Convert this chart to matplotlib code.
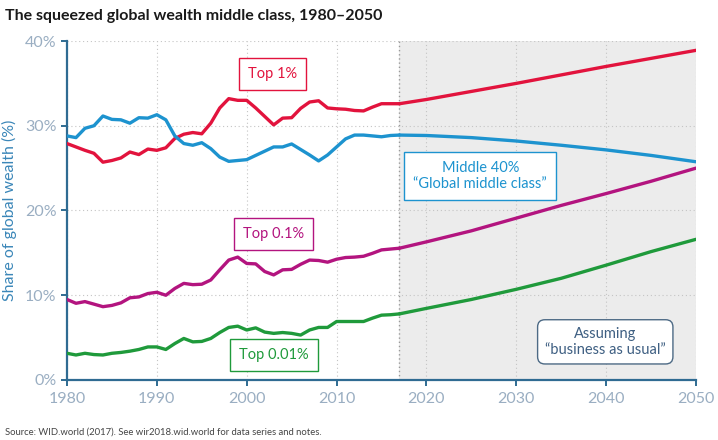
import matplotlib
matplotlib.use("Agg")
import matplotlib.pyplot as plt

plt.rcParams['font.family'] = ['Lato', 'DejaVu Sans']

hist_years = list(range(1980, 2018))
top1_hist = [27.9, 27.5, 27.1, 26.75, 25.7, 25.9, 26.2, 26.9, 26.6, 27.25,
             27.1, 27.4, 28.5, 29.0, 29.2, 29.05, 30.3, 32.1, 33.2, 33.0,
             33.0, 32.1, 31.1, 30.1, 30.9, 30.95, 32.05, 32.8, 32.95, 32.1,
             32.0, 31.95, 31.8, 31.75, 32.2, 32.6, 32.6, 32.6]
mid40_hist = [28.8, 28.6, 29.7, 30.0, 31.15, 30.75, 30.7, 30.3, 30.95, 30.9,
              31.3, 30.7, 28.8, 27.9, 27.7, 28.0, 27.3, 26.3, 25.8, 25.9,
              26.0, 26.5, 27.0, 27.5, 27.5, 27.85, 27.2, 26.55, 25.85, 26.55,
              27.5, 28.45, 28.9, 28.9, 28.8, 28.7, 28.85, 28.9]
top01_hist = [9.5, 9.05, 9.25, 8.95, 8.65, 8.8, 9.1, 9.7, 9.8, 10.2,
              10.35, 10.0, 10.8, 11.4, 11.25, 11.3, 11.8, 13.0, 14.15, 14.5,
              13.75, 13.7, 12.8, 12.4, 13.0, 13.05, 13.65, 14.15, 14.1, 13.9,
              14.25, 14.45, 14.5, 14.6, 14.95, 15.35, 15.45, 15.55]
top001_hist = [3.15, 2.95, 3.15, 3.0, 2.95, 3.15, 3.25, 3.4, 3.6, 3.9,
               3.9, 3.6, 4.3, 4.9, 4.5, 4.55, 4.9, 5.6, 6.2, 6.35,
               5.9, 6.15, 5.65, 5.5, 5.6, 5.5, 5.3, 5.9, 6.2, 6.2,
               6.9, 6.9, 6.9, 6.9, 7.3, 7.65, 7.7, 7.8]

proj_years = [2017, 2020, 2025, 2030, 2035, 2040, 2045, 2050]
top1_proj = [32.6, 33.1, 34.05, 35.0, 36.0, 37.0, 37.95, 38.9]
mid40_proj = [28.9, 28.85, 28.6, 28.2, 27.7, 27.15, 26.5, 25.75]
top01_proj = [15.55, 16.3, 17.6, 19.1, 20.6, 22.0, 23.45, 25.0]
top001_proj = [7.8, 8.45, 9.5, 10.7, 12.0, 13.55, 15.15, 16.6]

x_ticks = [1980, 1990, 2000, 2010, 2020, 2030, 2040, 2050]
y_ticks = [0, 10, 20, 30, 40]
y_tick_labels = ['0%', '10%', '20%', '30%', '40%']

c_red = '#e2133d'
c_blue = '#1d93cf'
c_mag = '#b3147f'
c_green = '#1f9a3b'
c_tick = '#9aaec2'
c_spine = '#2f6b92'

fig = plt.figure(figsize=(7.18, 4.40), dpi=100)
ax = fig.add_axes([0.0933, 0.1364, 0.8761, 0.7704])

ax.axvspan(2017, 2050, color='#ececec', zorder=0, lw=0)
ax.axvline(2017, color='#9a9a9a', lw=1.0, ls=(0, (1, 2)), zorder=1)

lw = 2.4
for yrs, vals, c in [(hist_years, top1_hist, c_red), (proj_years, top1_proj, c_red),
                     (hist_years, mid40_hist, c_blue), (proj_years, mid40_proj, c_blue),
                     (hist_years, top01_hist, c_mag), (proj_years, top01_proj, c_mag),
                     (hist_years, top001_hist, c_green), (proj_years, top001_proj, c_green)]:
    ax.plot(yrs, vals, color=c, lw=lw, solid_capstyle='round', solid_joinstyle='round', zorder=3)

ax.set_xlim(1980, 2050)
ax.set_ylim(0, 40)
ax.set_xticks(x_ticks)
ax.set_yticks(y_ticks)
ax.set_yticklabels(y_tick_labels)
ax.grid(True, color='#c4c4c4', lw=0.8, ls=(0, (1, 2.5)), zorder=1)
ax.set_axisbelow(True)
for s in ['top', 'right']:
    ax.spines[s].set_visible(False)
for s in ['left', 'bottom']:
    ax.spines[s].set_color(c_spine)
    ax.spines[s].set_linewidth(1.6)
ax.tick_params(axis='both', colors=c_spine, labelcolor=c_tick, labelsize=11.5, length=4, width=1.4)
ax.tick_params(axis='x', pad=5)
ax.set_ylabel('Share of global wealth (%)', color='#3a86b8', fontsize=11.5, labelpad=6)

def label_box(x, y, text, col, fs=10.5, rounded=False, ec=None, tc=None):
    style = 'round,pad=0.5,rounding_size=0.5' if rounded else 'square,pad=0.62'
    ax.text(x, y, text, color=tc or col, fontsize=fs, ha='center', va='center',
            linespacing=1.15, zorder=5,
            bbox=dict(boxstyle=style, fc='white', ec=ec or col, lw=1.0))

label_box(2002.9, 36.1, 'Top 1%', c_red)
label_box(2003.0, 17.2, 'Top 0.1%', c_mag)
label_box(2003.0, 2.95, 'Top 0.01%', c_green)
label_box(2026.0, 24.1, 'Middle 40%\n\u201cGlobal middle class\u201d', c_blue)
label_box(2039.9, 4.5, 'Assuming\n\u201cbusiness as usual\u201d', '#4d6a85', rounded=True, tc='#3e5f82')

fig.text(0.007, 0.963, 'The squeezed global wealth middle class, 1980\u20132050',
         fontsize=11.5, fontweight='bold', color='#1a1a1a', ha='left', va='center')
fig.text(0.007, 0.018, 'Source: WID.world (2017). See wir2018.wid.world for data series and notes.',
         fontsize=6.8, color='#444444', ha='left', va='center')

fig.savefig('out.png', dpi=100)
